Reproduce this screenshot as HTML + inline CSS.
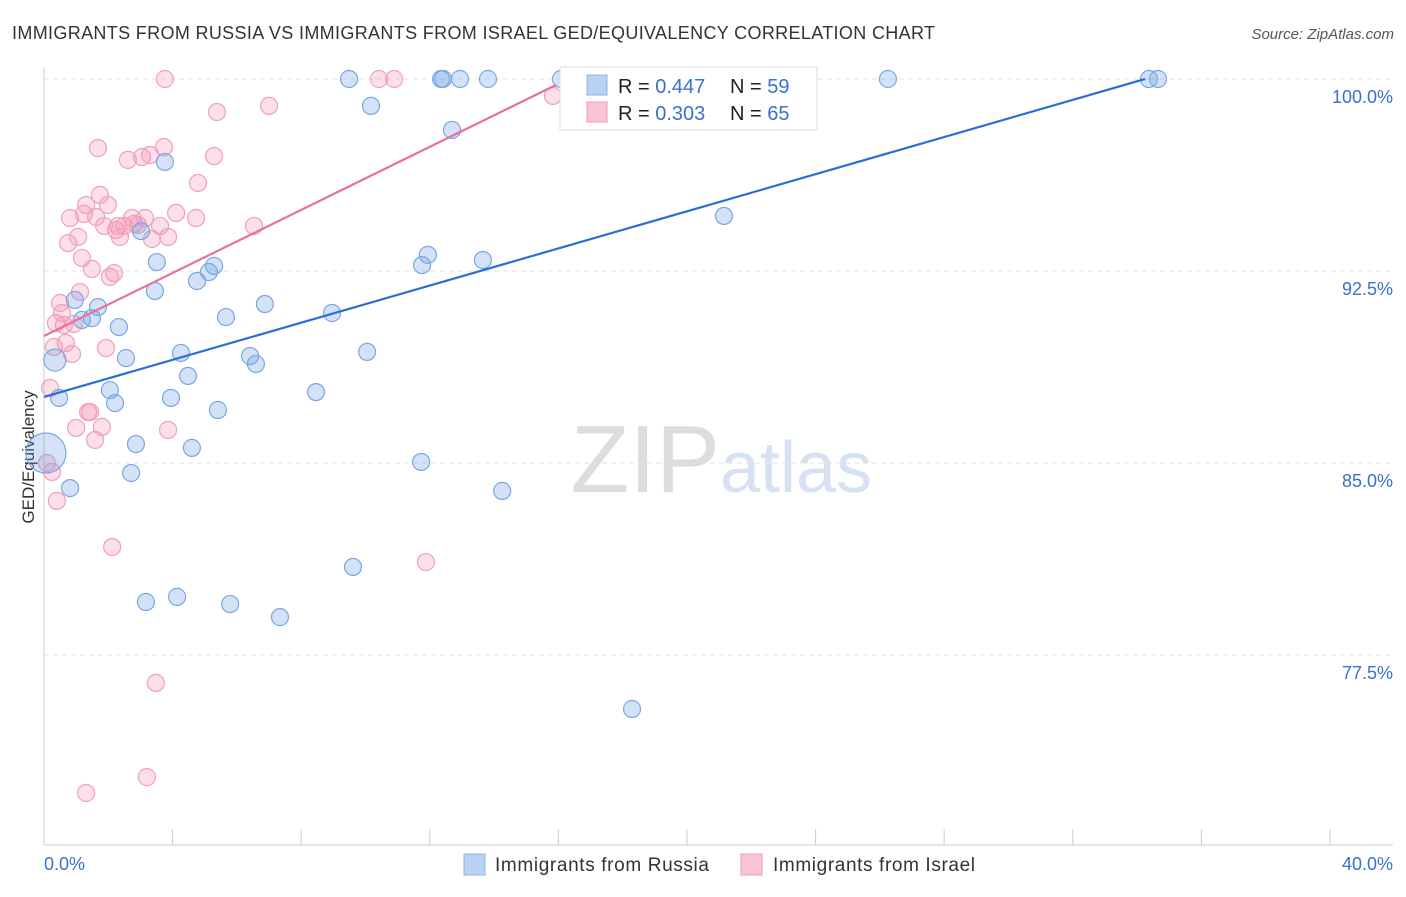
<!DOCTYPE html>
<html><head><meta charset="utf-8"><style>
body{margin:0;background:#fff;font-family:"Liberation Sans",sans-serif;}
svg text{font-family:"Liberation Sans",sans-serif;}
</style></head><body>
<svg id="chart" width="1406" height="892">
<text x="12" y="39" font-size="18" fill="#333" textLength="923">IMMIGRANTS FROM RUSSIA VS IMMIGRANTS FROM ISRAEL GED/EQUIVALENCY CORRELATION CHART</text>
<text x="1394" y="39" font-size="15" fill="#555" text-anchor="end" font-style="italic">Source: ZipAtlas.com</text>
<text x="720" y="492" font-size="96" fill="#ddd" text-anchor="end" font-family="Liberation Serif">ZIP</text>
<text x="720" y="492" font-size="72" fill="#d6e2f3">atlas</text>
<text transform="translate(34,457) rotate(-90)" font-size="17" fill="#333" text-anchor="middle">GED/Equivalency</text>
<g id="grid"></g><g id="axes"></g><g id="pts"></g><g id="lines"></g>
<g>
<rect x="560" y="67" width="257" height="63" fill="#fff" stroke="#ddd"/>
<rect x="587" y="75" width="20" height="20" fill="#b9d1f3" stroke="#8db3e8"/>
<rect x="587" y="102" width="20" height="20" fill="#f9c5d5" stroke="#f09ab6"/>
<text x="618" y="93" font-size="20" fill="#222">R = <tspan fill="#3a70d0">0.447</tspan></text>
<text x="730" y="93" font-size="20" fill="#222">N = <tspan fill="#3a70d0">59</tspan></text>
<text x="618" y="120" font-size="20" fill="#222">R = <tspan fill="#3a70d0">0.303</tspan></text>
<text x="730" y="120" font-size="20" fill="#222">N = <tspan fill="#3a70d0">65</tspan></text>
</g>
<g>
<rect x="464" y="854" width="21" height="21" fill="#b9d1f3" stroke="#8db3e8"/>
<text x="495" y="871" font-size="19" fill="#333" textLength="214">Immigrants from Russia</text>
<rect x="741" y="854" width="21" height="21" fill="#f9c5d5" stroke="#f09ab6"/>
<text x="773" y="871" font-size="19" fill="#333" textLength="202">Immigrants from Israel</text>
</g>
</svg>
<script>
const yTicks=[100,92.5,85,77.5];
const yTickLabels=["100.0%","92.5%","85.0%","77.5%"];
const xTickLabels=["0.0%","40.0%"];
const russiaX=[0.06,0.34,0.47,0.81,0.96,1.18,1.49,1.68,2.05,2.21,2.33,2.55,2.71,2.86,3.02,3.17,3.45,3.51,3.76,3.95,4.14,4.26,4.48,4.60,4.76,5.13,5.29,5.41,5.66,5.79,6.41,6.59,6.87,7.34,8.46,8.96,9.49,9.61,10.05,10.17,11.73,11.76,11.94,12.35,12.41,12.69,12.94,13.65,13.81,14.25,16.08,18.29,21.15,26.25,34.37,34.65];
const russiaY=[85.39,89.02,87.54,84.02,91.37,90.59,90.66,91.09,87.85,87.34,90.31,89.10,84.61,85.74,94.06,79.57,91.72,92.85,96.76,87.54,79.77,89.30,88.40,85.59,92.11,92.46,92.70,87.07,90.70,79.49,89.18,88.87,91.21,78.98,87.77,90.86,100,80.94,89.34,98.95,85.04,92.73,93.13,100,100,98.01,100,92.93,100,83.91,100,75.39,94.65,100,100,100];
const russiaR=[20,11];
const israelX=[0.09,0.19,0.25,0.31,0.37,0.40,0.50,0.56,0.62,0.68,0.75,0.81,0.87,0.93,1.0,1.06,1.12,1.18,1.24,1.31,1.37,1.43,1.49,1.59,1.62,1.68,1.74,1.80,1.87,1.93,1.99,2.05,2.12,2.18,2.24,2.30,2.36,2.49,2.61,2.74,2.80,2.92,3.05,3.14,3.20,3.30,3.36,3.48,3.61,3.73,3.76,3.86,3.86,4.11,4.73,4.79,5.29,5.38,6.53,7.0,10.42,10.89,11.88,15.83,1.31];
const israelY=[85.0,87.93,84.65,89.53,90.47,83.52,91.25,90.86,90.39,89.69,93.59,94.57,89.26,90.43,86.37,93.83,91.68,93.01,94.73,95.08,86.99,86.99,92.58,85.90,94.61,97.30,95.47,86.41,94.26,89.49,95.08,92.27,81.72,92.42,94.10,94.26,93.83,94.26,96.84,94.57,94.34,94.30,96.95,94.57,72.73,97.03,93.75,76.41,94.26,97.34,100,86.29,93.83,94.77,94.57,95.94,96.99,98.71,94.26,98.95,100,100,81.13,99.34,72.11];
const russiaTrend=[[0,87.58],[34.25,100]];
const israelTrend=[[0,89.96],[15.93,99.77]];
const sx=v=>44+v*32.15, sy=v=>79+(100-v)*25.6;
const NS="http://www.w3.org/2000/svg";
function mk(parent,tag,attrs){const e=document.createElementNS(NS,tag);for(const k in attrs)e.setAttribute(k,attrs[k]);document.getElementById(parent).appendChild(e);return e;}
yTicks.forEach((t,i)=>{
 const g=mk('grid','line',{x1:44,x2:1393,y1:sy(t),y2:sy(t),stroke:'#e2e2e2','stroke-dasharray':'5,4'});
 
 
 const tx=mk('grid','text',{x:1393,y:sy(t)+24,'font-size':18,fill:'#3a70d0','text-anchor':'end'});
 tx.textContent=yTickLabels[i];
 
 
});
let a=mk('axes','line',{x1:44,x2:44,y1:68,y2:845,stroke:'#ccc'});


a=mk('axes','line',{x1:44,x2:1393,y1:845,y2:845,stroke:'#ccc'});


for(let i=0;i<=10;i++){const t=mk('axes','line',{x1:sx(i*4),x2:sx(i*4),y1:829,y2:845,stroke:'#ccc'});
 
 }
[[0,'start'],[40,'end']].forEach((p,i)=>{const t=mk('axes','text',{x:i?1393:44,y:870,'font-size':18,fill:'#3a70d0','text-anchor':p[1]});t.textContent=xTickLabels[i];
 
 });
israelX.forEach((x,i)=>{const c=mk('pts','circle',{cx:sx(x),cy:sy(israelY[i]),r:8.5,fill:'rgba(244,150,180,0.3)',stroke:'#f0a0bb','stroke-width':1.2});
 
 });
russiaX.forEach((x,i)=>{const c=mk('pts','circle',{cx:sx(x),cy:sy(russiaY[i]),r:russiaR[i]||8.5,fill:'rgba(110,160,230,0.3)',stroke:'#7aa6e3','stroke-width':1.2});
 
 });
let l=mk('lines','line',{x1:sx(russiaTrend[0][0]),y1:sy(russiaTrend[0][1]),x2:sx(russiaTrend[1][0]),y2:sy(russiaTrend[1][1]),stroke:'#2b6fd6','stroke-width':2.2});


l=mk('lines','line',{x1:sx(israelTrend[0][0]),y1:sy(israelTrend[0][1]),x2:sx(israelTrend[1][0]),y2:sy(israelTrend[1][1]),stroke:'#e8709a','stroke-width':2.2});


</script>
</body></html>
